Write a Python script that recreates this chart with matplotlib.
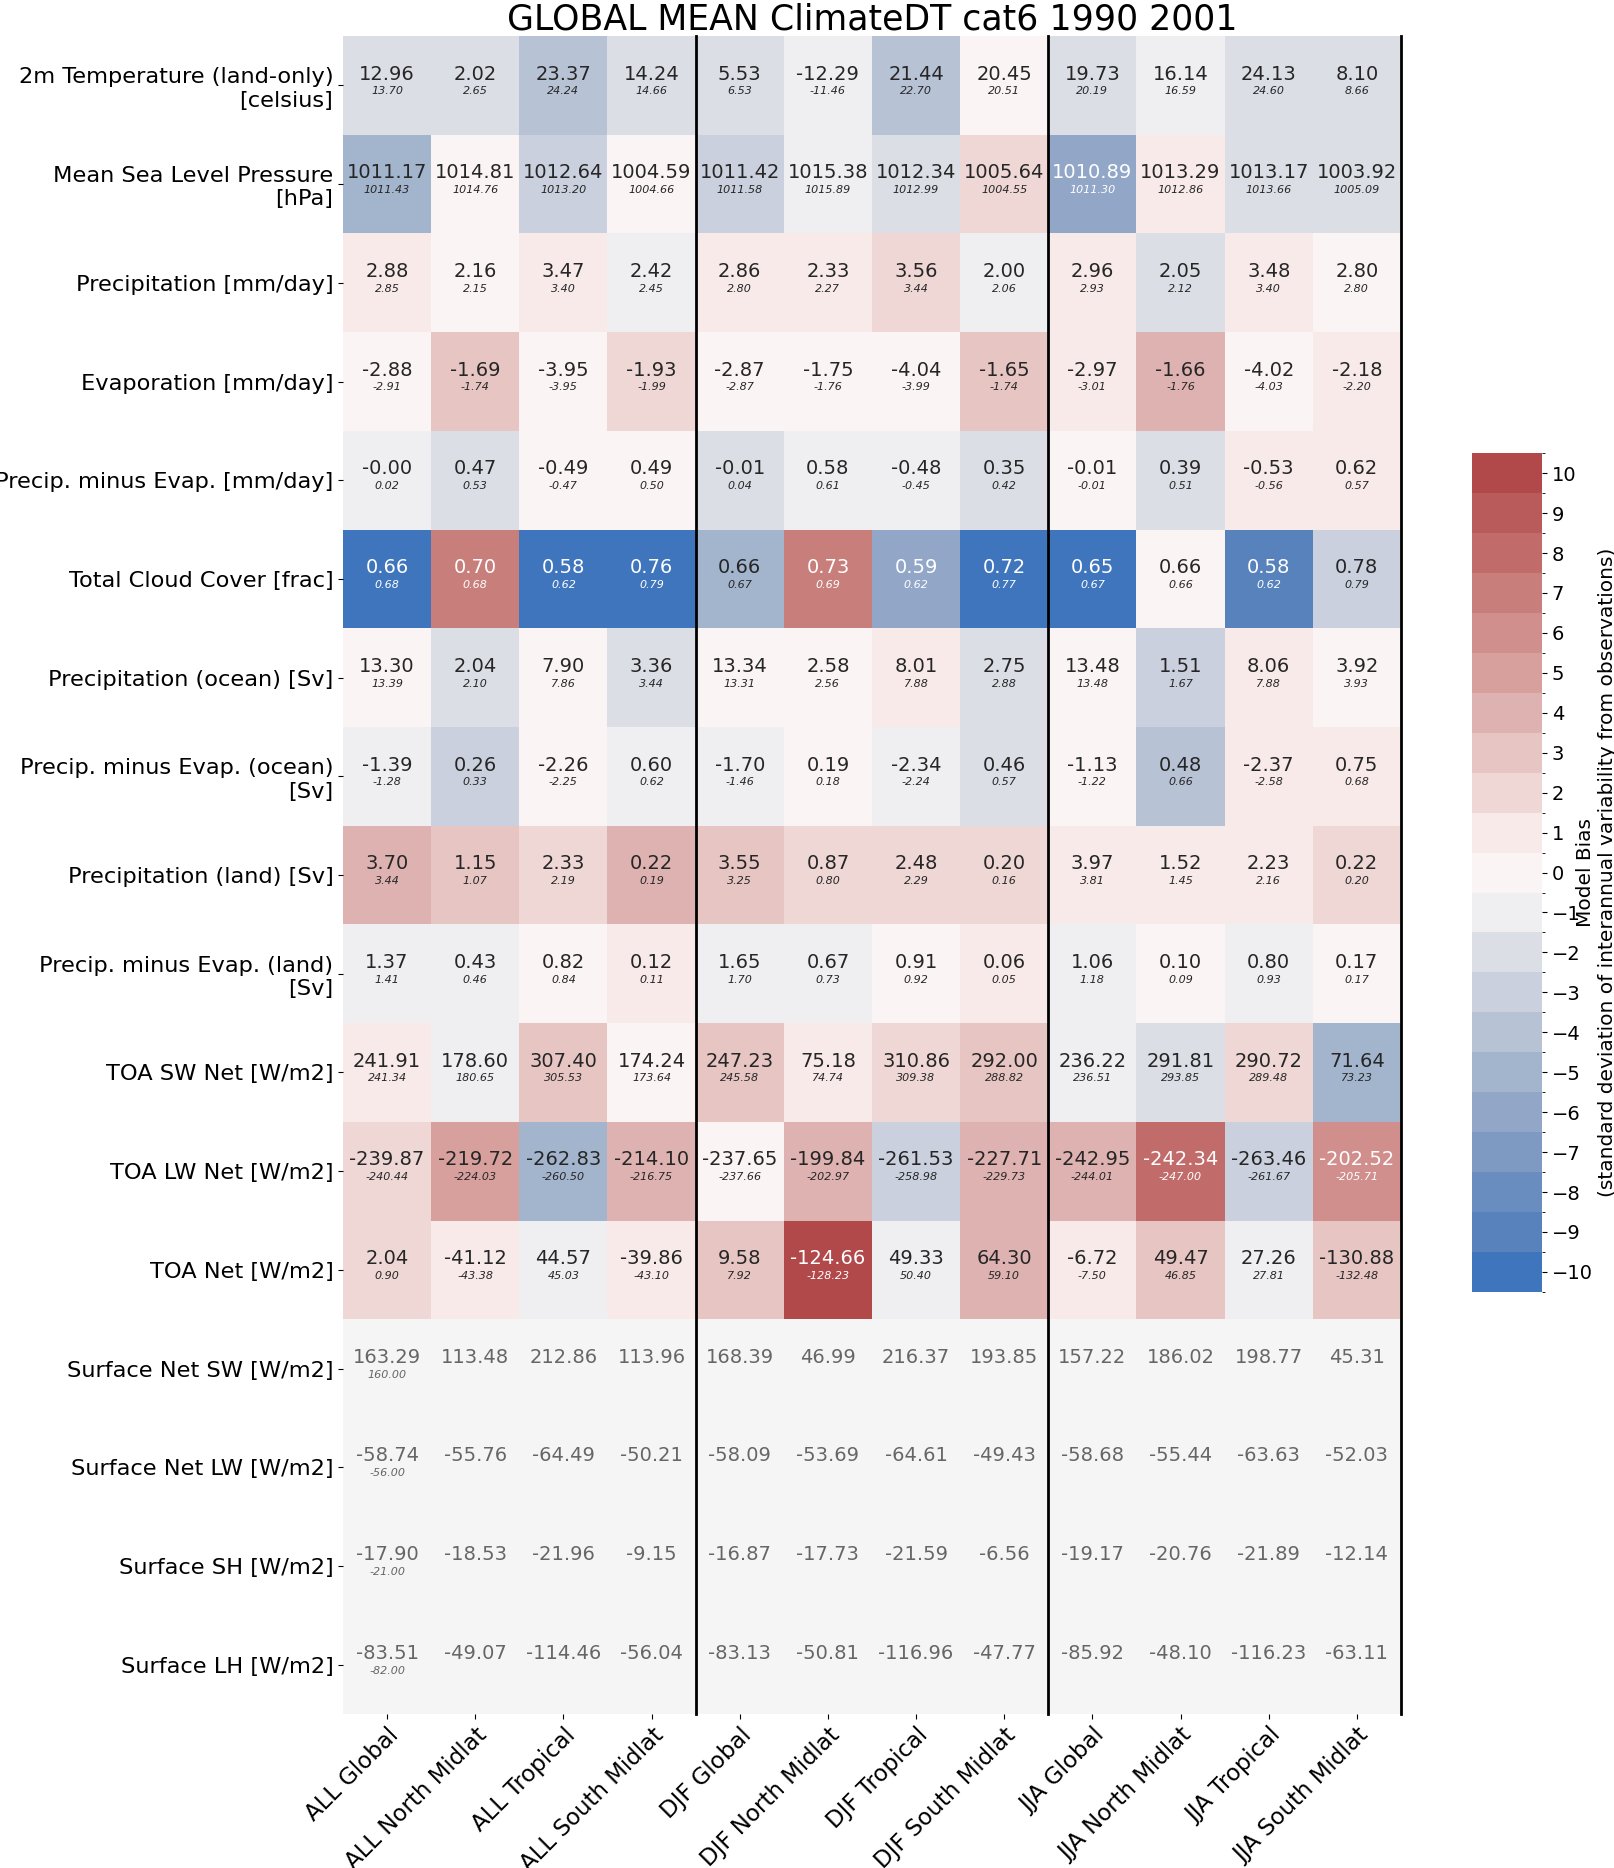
import numpy as np
import matplotlib
matplotlib.use("Agg")
import matplotlib.pyplot as plt
import matplotlib.colors as mcolors
import seaborn as sns

# rows / columns of the table
variables = [
    "2m Temperature (land-only)\n[celsius]",
    "Mean Sea Level Pressure\n[hPa]",
    "Precipitation [mm/day]",
    "Evaporation [mm/day]",
    "Precip. minus Evap. [mm/day]",
    "Total Cloud Cover [frac]",
    "Precipitation (ocean) [Sv]",
    "Precip. minus Evap. (ocean)\n[Sv]",
    "Precipitation (land) [Sv]",
    "Precip. minus Evap. (land)\n[Sv]",
    "TOA SW Net [W/m2]",
    "TOA LW Net [W/m2]",
    "TOA Net [W/m2]",
    "Surface Net SW [W/m2]",
    "Surface Net LW [W/m2]",
    "Surface SH [W/m2]",
    "Surface LH [W/m2]",
]
regions = ["ALL Global", "ALL North Midlat", "ALL Tropical", "ALL South Midlat",
           "DJF Global", "DJF North Midlat", "DJF Tropical", "DJF South Midlat",
           "JJA Global", "JJA North Midlat", "JJA Tropical", "JJA South Midlat"]

# model values
model = [
    [12.96, 2.02, 23.37, 14.24, 5.53, -12.29, 21.44, 20.45, 19.73, 16.14, 24.13, 8.10],
    [1011.17, 1014.81, 1012.64, 1004.59, 1011.42, 1015.38, 1012.34, 1005.64, 1010.89, 1013.29, 1013.17, 1003.92],
    [2.88, 2.16, 3.47, 2.42, 2.86, 2.33, 3.56, 2.00, 2.96, 2.05, 3.48, 2.80],
    [-2.88, -1.69, -3.95, -1.93, -2.87, -1.75, -4.04, -1.65, -2.97, -1.66, -4.02, -2.18],
    [-0.00, 0.47, -0.49, 0.49, -0.01, 0.58, -0.48, 0.35, -0.01, 0.39, -0.53, 0.62],
    [0.66, 0.70, 0.58, 0.76, 0.66, 0.73, 0.59, 0.72, 0.65, 0.66, 0.58, 0.78],
    [13.30, 2.04, 7.90, 3.36, 13.34, 2.58, 8.01, 2.75, 13.48, 1.51, 8.06, 3.92],
    [-1.39, 0.26, -2.26, 0.60, -1.70, 0.19, -2.34, 0.46, -1.13, 0.48, -2.37, 0.75],
    [3.70, 1.15, 2.33, 0.22, 3.55, 0.87, 2.48, 0.20, 3.97, 1.52, 2.23, 0.22],
    [1.37, 0.43, 0.82, 0.12, 1.65, 0.67, 0.91, 0.06, 1.06, 0.10, 0.80, 0.17],
    [241.91, 178.60, 307.40, 174.24, 247.23, 75.18, 310.86, 292.00, 236.22, 291.81, 290.72, 71.64],
    [-239.87, -219.72, -262.83, -214.10, -237.65, -199.84, -261.53, -227.71, -242.95, -242.34, -263.46, -202.52],
    [2.04, -41.12, 44.57, -39.86, 9.58, -124.66, 49.33, 64.30, -6.72, 49.47, 27.26, -130.88],
    [163.29, 113.48, 212.86, 113.96, 168.39, 46.99, 216.37, 193.85, 157.22, 186.02, 198.77, 45.31],
    [-58.74, -55.76, -64.49, -50.21, -58.09, -53.69, -64.61, -49.43, -58.68, -55.44, -63.63, -52.03],
    [-17.90, -18.53, -21.96, -9.15, -16.87, -17.73, -21.59, -6.56, -19.17, -20.76, -21.89, -12.14],
    [-83.51, -49.07, -114.46, -56.04, -83.13, -50.81, -116.96, -47.77, -85.92, -48.10, -116.23, -63.11],
]

# observed values (None = not available)
N = None
obs = [
    [13.70, 2.65, 24.24, 14.66, 6.53, -11.46, 22.70, 20.51, 20.19, 16.59, 24.60, 8.66],
    [1011.43, 1014.76, 1013.20, 1004.66, 1011.58, 1015.89, 1012.99, 1004.55, 1011.30, 1012.86, 1013.66, 1005.09],
    [2.85, 2.15, 3.40, 2.45, 2.80, 2.27, 3.44, 2.06, 2.93, 2.12, 3.40, 2.80],
    [-2.91, -1.74, -3.95, -1.99, -2.87, -1.76, -3.99, -1.74, -3.01, -1.76, -4.03, -2.20],
    [0.02, 0.53, -0.47, 0.50, 0.04, 0.61, -0.45, 0.42, -0.01, 0.51, -0.56, 0.57],
    [0.68, 0.68, 0.62, 0.79, 0.67, 0.69, 0.62, 0.77, 0.67, 0.66, 0.62, 0.79],
    [13.39, 2.10, 7.86, 3.44, 13.31, 2.56, 7.88, 2.88, 13.48, 1.67, 7.88, 3.93],
    [-1.28, 0.33, -2.25, 0.62, -1.46, 0.18, -2.24, 0.57, -1.22, 0.66, -2.58, 0.68],
    [3.44, 1.07, 2.19, 0.19, 3.25, 0.80, 2.29, 0.16, 3.81, 1.45, 2.16, 0.20],
    [1.41, 0.46, 0.84, 0.11, 1.70, 0.73, 0.92, 0.05, 1.18, 0.09, 0.93, 0.17],
    [241.34, 180.65, 305.53, 173.64, 245.58, 74.74, 309.38, 288.82, 236.51, 293.85, 289.48, 73.23],
    [-240.44, -224.03, -260.50, -216.75, -237.66, -202.97, -258.98, -229.73, -244.01, -247.00, -261.67, -205.71],
    [0.90, -43.38, 45.03, -43.10, 7.92, -128.23, 50.40, 59.10, -7.50, 46.85, 27.81, -132.48],
    [160.00, N, N, N, N, N, N, N, N, N, N, N],
    [-56.00, N, N, N, N, N, N, N, N, N, N, N],
    [-21.00, N, N, N, N, N, N, N, N, N, N, N],
    [-82.00, N, N, N, N, N, N, N, N, N, N, N],
]

# bias in units of interannual std
bias = [
    [-2, -2, -4, -2, -2, -1, -4, 0, -2, -1, -2, -2],
    [-5, 0, -3, 0, -3, -1, -2, 2, -6, 1, -2, -2],
    [1, 0, 1, -1, 1, 1, 2, -1, 1, -2, 1, 0],
    [0, 3, 0, 2, 0, 0, 0, 3, 1, 4, 0, 1],
    [-1, -2, 0, 0, -2, -1, -1, -2, 0, -2, 1, 1],
    [-10, 7, -10, -10, -5, 7, -6, -10, -10, 0, -9, -3],
    [0, -2, 0, -2, 0, 0, 1, -2, 0, -3, 1, 0],
    [-1, -3, 0, -1, -1, 0, -1, -2, 0, -4, 1, 1],
    [4, 3, 2, 4, 3, 2, 2, 2, 1, 1, 1, 2],
    [-1, -1, 0, 1, -1, -1, 0, 1, -1, 0, -1, 0],
    [1, -1, 3, 0, 3, 1, 2, 3, -1, -2, 2, -5],
    [2, 5, -5, 4, 0, 4, -3, 4, 4, 8, -3, 6],
    [2, 1, -1, 1, 3, 10, -1, 4, 1, 3, -1, 3],
    [N] * 12,
    [N] * 12,
    [N] * 12,
    [N] * 12,
]

bias_arr = np.array([[np.nan if b is None else b for b in row] for row in bias], dtype=float)
nrow, ncol = bias_arr.shape

cmap = mcolors.ListedColormap(sns.color_palette("vlag", 21))
levels = np.arange(-10.5, 11.5, 1.0)
norm = mcolors.BoundaryNorm(levels, cmap.N)

fig = plt.figure(figsize=(16.14, 18.68), dpi=100)
ax = fig.add_axes([0.2125, 0.0824, 0.6555, 0.8983])
cax = fig.add_axes([0.912, 0.3084, 0.0434, 0.449])

ax.set_facecolor("#f5f5f5")
mesh = ax.pcolormesh(np.arange(ncol + 1), np.arange(nrow + 1),
                     np.ma.masked_invalid(bias_arr), cmap=cmap, norm=norm)
ax.set_xlim(0, ncol)
ax.set_ylim(nrow, 0)

for i in range(nrow):
    for j in range(ncol):
        b = bias_arr[i, j]
        if np.isnan(b):
            col = "#666666"
        elif abs(b) >= 5.5:
            col = "white"
        else:
            col = "#262626"
        ax.text(j + 0.5, i + 0.385, "%.2f" % model[i][j], ha="center", va="center",
                fontsize=14, color=col)
        if obs[i][j] is not None:
            ax.text(j + 0.5, i + 0.56, "%.2f" % obs[i][j], ha="center", va="center",
                    fontsize=8, style="italic", color=col)

for xline in (4, 8, 12):
    ax.axvline(xline, color="black", lw=2, clip_on=False)

ax.set_xticks(np.arange(ncol) + 0.5)
ax.set_xticklabels(regions, rotation=45, ha="right", rotation_mode="anchor", fontsize=16.5)
ax.set_yticks(np.arange(nrow) + 0.5)
ax.set_yticklabels(variables, fontsize=16.2)
for s in ax.spines.values():
    s.set_visible(False)
ax.set_title("GLOBAL MEAN ClimateDT cat6 1990 2001", fontsize=25, pad=2)

cb = fig.colorbar(mesh, cax=cax, ticks=np.arange(-10, 11))
cb.outline.set_visible(False)
cb.ax.tick_params(labelsize=14)
cb.set_label("Model Bias\n(standard deviation of interannual variability from observations)",
             fontsize=14.5, labelpad=-12)

fig.savefig("out.png", dpi=100)
